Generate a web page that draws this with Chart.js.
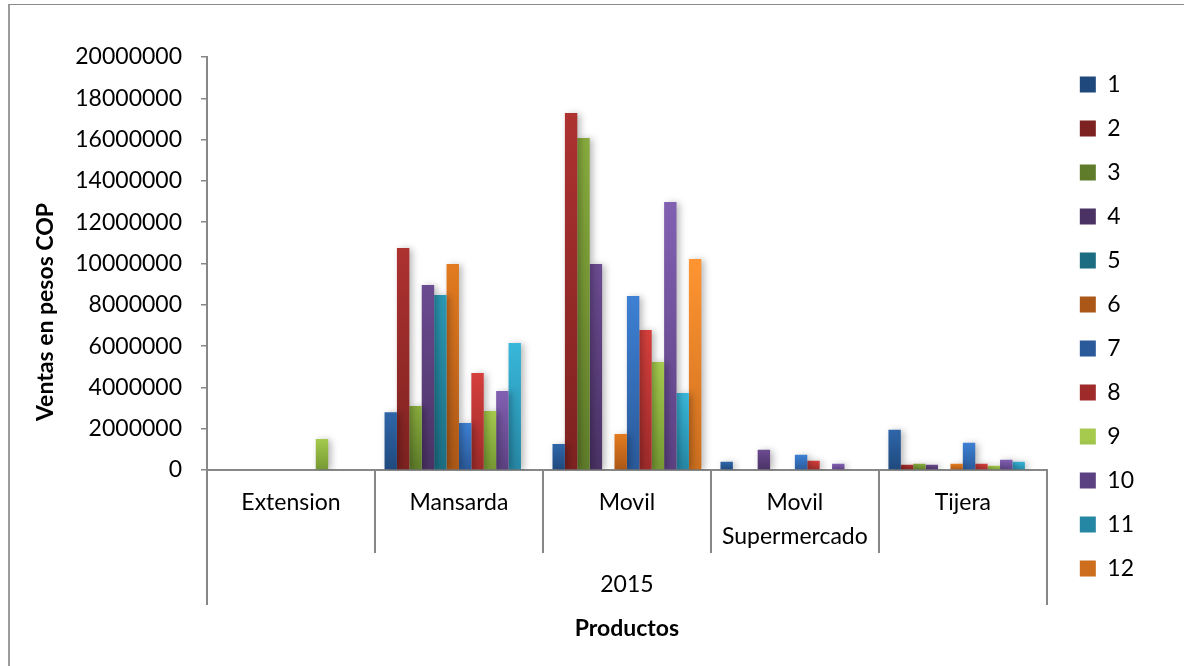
<!DOCTYPE html>
<html>
<head>
<meta charset="utf-8">
<script src="https://cdn.jsdelivr.net/npm/chart.js@4.4.1/dist/chart.umd.min.js"></script>
<style>
  html, body { margin: 0; padding: 0; background: #fff; overflow: hidden; }
  #wrap { position: relative; width: 1184px; height: 666px; overflow: hidden; }
  #wrap canvas { position: absolute; left: 0; top: 0; }
  #frame { position: absolute; left: 8px; top: 4px; width: 1200px; height: 700px;
           border-left: 2px solid #9b9b9b; border-top: 1px solid #8a8a8a; pointer-events: none; }
</style>
</head>
<body>
<div id="wrap">
  <canvas id="ventas" width="1184" height="666"></canvas>
  <div id="frame"></div>
</div>
<script>
// Product lines (inner category level) and the year (outer level)
const productos = ['Extension', 'Mansarda', 'Movil', ['Movil', 'Supermercado'], 'Tijera'];
const anio = ['2015'];

// Monthly sales in COP, one array per month, in product order
const mes1  = [0,       2800000,  1260000,  400000,  1950000];
const mes2  = [0,       10750000, 17290000, 0,       260000];
const mes3  = [0,       3100000,  16080000, 0,       300000];
const mes4  = [0,       8960000,  9970000,  980000,  260000];
const mes5  = [0,       8470000,  0,        0,       0];
const mes6  = [0,       9970000,  1740000,  0,       300000];
const mes7  = [0,       2280000,  8430000,  740000,  1320000];
const mes8  = [0,       4700000,  6780000,  450000,  300000];
const mes9  = [1500000, 2860000,  5230000,  0,       210000];
const mes10 = [0,       3830000,  12980000, 300000,  500000];
const mes11 = [0,       6150000,  3730000,  0,       400000];
const mes12 = [0,       0,        10220000, 0,       0];

const meses = ['1', '2', '3', '4', '5', '6', '7', '8', '9', '10', '11', '12'];
const ventasPorMes = [mes1, mes2, mes3, mes4, mes5, mes6, mes7, mes8, mes9, mes10, mes11, mes12];

// Y axis tick values
const yMin = 0, yMax = 20000000, yStep = 2000000;

// Bar colours: light at the top of each bar, darker at the base
const colorTop    = ['#2f66a9', '#ad3230', '#88ab3d', '#6b4b91', '#2b98b4', '#e27b20',
                     '#3e80d4', '#d53f3c', '#a5ca4d', '#8160b2', '#38b7da', '#ff9532'];
const colorBottom = ['#1f497d', '#7d2220', '#5e7c29', '#4a3265', '#1c6d82', '#ab5717',
                     '#2a5a9a', '#9e2b2a', '#769833', '#5c4182', '#2687a4', '#cc6e1e'];

function mix(a, b) {
  const pa = parseInt(a.slice(1), 16), pb = parseInt(b.slice(1), 16);
  const ch = s => Math.round((((pa >> s) & 255) + ((pb >> s) & 255)) / 2);
  return 'rgb(' + ch(16) + ',' + ch(8) + ',' + ch(0) + ')';
}

function barFill(i) {
  return (ctx) => {
    const chart = ctx.chart;
    const y = chart.scales && chart.scales.y;
    if (ctx.type !== 'data' || !chart.chartArea || !y) return mix(colorTop[i], colorBottom[i]);
    const top = y.getPixelForValue(ctx.raw);
    const base = y.getPixelForValue(0);
    if (!(base - top > 0.5)) return colorBottom[i];
    const g = chart.ctx.createLinearGradient(0, top, 0, base);
    g.addColorStop(0, colorTop[i]);
    g.addColorStop(1, colorBottom[i]);
    return g;
  };
}

// Soft drop shadow behind the bars
const barShadow = {
  id: 'barShadow',
  beforeDatasetsDraw(chart) {
    const c = chart.ctx;
    c.save();
    c.shadowColor = 'rgba(0,0,0,0.28)';
    c.shadowBlur = 7;
    c.shadowOffsetX = 3;
    c.shadowOffsetY = 1;
  },
  afterDatasetsDraw(chart) { chart.ctx.restore(); }
};

// Vertical value-axis title
const yAxisTitle = {
  id: 'yAxisTitle',
  afterDraw(chart) {
    const c = chart.ctx;
    c.save();
    c.translate(46, 312);
    c.rotate(-Math.PI / 2);
    c.font = 'bold 23px Lato';
    c.fillStyle = '#000';
    c.textAlign = 'center';
    c.textBaseline = 'middle';
    c.fillText('Ventas en pesos COP', 0, 0);
    c.restore();
  }
};

const axisGrey = '#878787';

new Chart(document.getElementById('ventas'), {
  type: 'bar',
  data: {
    labels: productos,
    datasets: meses.map((m, i) => ({
      label: m,
      data: ventasPorMes[i],
      backgroundColor: barFill(i),
      borderWidth: 0,
      categoryPercentage: 0.886,
      barPercentage: 1.0,
      xAxisID: 'x',
      yAxisID: 'y'
    }))
  },
  options: {
    responsive: false,
    animation: false,
    events: [],
    font: { family: 'Lato', size: 23 },
    layout: { padding: { top: 52, right: 40, bottom: 0, left: 0 } },
    scales: {
      x: {
        type: 'category',
        position: 'bottom',
        weight: 0,
        grid: { display: true, offset: true, drawOnChartArea: false, tickLength: 83,
                color: axisGrey, lineWidth: 2 },
        border: { display: true, color: axisGrey, width: 2 },
        ticks: { color: '#000', padding: -67, maxRotation: 0, autoSkip: false,
                 font: { family: 'Lato', size: 23, lineHeight: 1.48 } },
        afterFit: s => { s.height = 83; }
      },
      x2: {
        type: 'category',
        position: 'bottom',
        weight: 1,
        labels: anio,
        grid: { display: true, offset: true, drawOnChartArea: false, tickLength: 52,
                color: axisGrey, lineWidth: 2 },
        border: { display: false },
        ticks: { color: '#000', padding: -37, maxRotation: 0,
                 font: { family: 'Lato', size: 23, lineHeight: 1.48 } },
        title: { display: true, text: 'Productos', color: '#000',
                 font: { family: 'Lato', size: 23, weight: 'bold', lineHeight: 1.2 },
                 padding: { top: 0, bottom: 24 } },
        afterFit: s => { s.height = 113; }
      },
      y: {
        type: 'linear',
        position: 'left',
        min: yMin,
        max: yMax,
        grid: { display: true, drawOnChartArea: false, tickLength: 6, color: axisGrey, lineWidth: 1.5 },
        border: { display: true, color: axisGrey, width: 2 },
        ticks: { stepSize: yStep, color: '#000', padding: 19,
                 font: { family: 'Lato', size: 23 },
                 callback: v => String(v) },
        afterFit: s => { s.width = 207; }
      },
      gap: {
        type: 'linear',
        position: 'right',
        display: true,
        grid: { display: false },
        border: { display: false },
        ticks: { display: false },
        afterFit: s => { s.width = 12; }
      }
    },
    plugins: {
      // empty title used only as top spacing above the plot area
      title: { display: true, text: '', padding: 0, font: { size: 5, lineHeight: 1 } },
      legend: {
        position: 'right',
        align: 'start',
        labels: { boxWidth: 16, boxHeight: 16, padding: 21, color: '#000',
                  font: { family: 'Lato', size: 23 } }
      },
      tooltip: { enabled: false }
    }
  },
  plugins: [barShadow, yAxisTitle]
});
</script>
</body>
</html>
